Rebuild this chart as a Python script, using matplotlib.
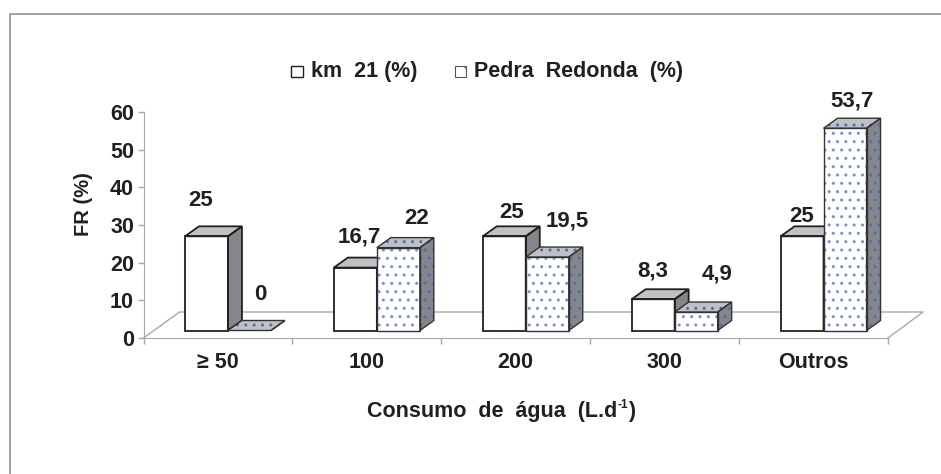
import matplotlib
matplotlib.use('Agg')
import matplotlib.pyplot as plt
from matplotlib.patches import Polygon, Rectangle

categories = ['≥ 50', '100', '200', '300', 'Outros']
km21 = [25, 16.7, 25, 8.3, 25]
pedra = [0, 22, 19.5, 4.9, 53.7]
km21_labels = ['25', '16,7', '25', '8,3', '25']
pedra_labels = ['0', '22', '19,5', '4,9', '53,7']
yticks = [0, 10, 20, 30, 40, 50, 60]

plt.rcParams['font.family'] = ['Liberation Sans', 'DejaVu Sans']
plt.rcParams['font.weight'] = 'bold'
plt.rcParams['hatch.linewidth'] = 1.0

W, H = 941, 474
fig = plt.figure(figsize=(W / 100, H / 100), dpi=100)
fig.patch.set_facecolor('white')

# plot box in pixels
left, right, top, bottom = 143.5, 888, 112, 338
ax = fig.add_axes([left / W, 1 - bottom / H, (right - left) / W, (bottom - top) / H])
ax.set_xlim(0, 5)
ax.set_ylim(0, 60)
ax.patch.set_visible(False)

px = 5 / (right - left)  # x units per pixel
py = 60 / (bottom - top)  # y units per pixel

dark = '#231f20'
grey = '#a8a8a8'
blue = '#4a6fc0'
pale_blue = '#7391d6'

# outer frame, only top and left are there
fig.add_artist(plt.Line2D([10 / W, 10 / W, 1], [0, 1 - 14 / H, 1 - 14 / H], transform=fig.transFigure,
                          color='#999999', lw=1.3))

# floor
ax.plot([0, 36 * px, 5 + 35 * px, 5], [0, 26 * py, 26 * py, 0], color=grey, lw=1, clip_on=False, zorder=1)

ax.set_yticks(yticks)
ax.set_xticks(range(6))
ax.set_xticklabels([])
ax.tick_params(axis='y', length=4.3, width=1, color=grey, labelsize=15.5, pad=2.5, labelcolor=dark)
ax.tick_params(axis='x', length=4.3, width=1, color=grey)
for s in ['top', 'right']:
    ax.spines[s].set_visible(False)
for s in ['left', 'bottom']:
    ax.spines[s].set_color(grey)

for i, c in enumerate(categories):
    ax.text(i + 0.5, -25 * py, c, ha='center', va='center', fontsize=15.5, color=dark)

bar_w = 43 * px
base = 7.5 * py
depth_x = 14 * px
depth_y = 10 * py


def draw_bar(x0, val, dotted, z):
    x1 = x0 + bar_w
    y0 = base
    y1 = base + val
    top_pts = [(x0, y1), (x1, y1), (x1 + depth_x, y1 + depth_y), (x0 + depth_x, y1 + depth_y)]
    side_pts = [(x1, y0), (x1 + depth_x, y0 + depth_y), (x1 + depth_x, y1 + depth_y), (x1, y1)]
    hatch = '..' if dotted else None
    lw = 1.3 if not dotted else 1.0
    edge = dark if not dotted else '#333333'
    for pts, col in [(top_pts, '#c0c1c4'), (side_pts, '#85868a')]:
        ax.add_patch(Polygon(pts, facecolor=col, edgecolor=blue if dotted else 'none', lw=0,
                             hatch=hatch, clip_on=False, zorder=z))
        ax.add_patch(Polygon(pts, fill=False, edgecolor=edge, lw=lw, clip_on=False, zorder=z + 0.1))
    if val > 0:
        ax.bar(x0, val, bar_w, bottom=y0, align='edge', color='white',
               edgecolor=pale_blue if dotted else 'none', lw=0, hatch=hatch, clip_on=False, zorder=z)
        ax.bar(x0, val, bar_w, bottom=y0, align='edge', fill=False, edgecolor=edge, lw=lw,
               clip_on=False, zorder=z + 0.1)


for i in range(len(categories)):
    x_a = i + 0.5 + 10 * px - bar_w
    x_b = i + 0.5 + 10 * px
    draw_bar(x_a, km21[i], False, 3)
    draw_bar(x_b, pedra[i], True, 4)

# value labels, nudged by hand as in the original (pixels from bar top)
km_off = [(-5.5, 35.5), (3.6, 30.6), (7.7, 23.5), (0, 28), (0, 19.5)]
pedra_off = [(10.5, 35.5), (18.6, 29.6), (19.7, 36), (20.8, 38), (7, 27)]
for i in range(len(categories)):
    x_a = i + 0.5 + 10 * px - bar_w / 2
    x_b = i + 0.5 + 10 * px + bar_w / 2
    dx, dy = km_off[i]
    ax.text(x_a + dx * px, base + km21[i] + dy * py, km21_labels[i], ha='center', va='center',
            fontsize=16, color=dark, clip_on=False, zorder=6)
    dx, dy = pedra_off[i]
    ax.text(x_b + dx * px, base + pedra[i] + dy * py, pedra_labels[i], ha='center', va='center',
            fontsize=16, color=dark, clip_on=False, zorder=6)

ax.set_ylabel('FR (%)', fontsize=14.5, color=dark, fontweight='bold')
ax.yaxis.set_label_coords(-0.068, 0.593)

# axis title, the superscript is a separate small text
fig.text(367 / W, 1 - 411 / H, 'Consumo  de  água  (L.d', ha='left', va='center', fontsize=15.5, color=dark)
fig.text(617.5 / W, 1 - 405 / H, '-1', ha='left', va='center', fontsize=8.5, color=dark)
fig.text(628.5 / W, 1 - 411 / H, ')', ha='left', va='center', fontsize=15.5, color=dark)

# legend
fig.add_artist(Rectangle((291 / W, 1 - 77 / H), 11.5 / W, 11 / H, transform=fig.transFigure,
                         facecolor='white', edgecolor=dark, lw=1))
fig.text(311 / W, 1 - 71 / H, 'km  21 (%)', ha='left', va='center', fontsize=15.5, color=dark)
fig.add_artist(Rectangle((454.5 / W, 1 - 77 / H), 11.5 / W, 11 / H, transform=fig.transFigure,
                         facecolor='white', edgecolor=blue, lw=0, hatch='.'))
fig.add_artist(Rectangle((454.5 / W, 1 - 77 / H), 11.5 / W, 11 / H, transform=fig.transFigure,
                         fill=False, edgecolor='#555555', lw=0.8))
fig.text(474 / W, 1 - 71 / H, 'Pedra  Redonda  (%)', ha='left', va='center', fontsize=15.5, color=dark)

fig.savefig('out.png', dpi=100)
